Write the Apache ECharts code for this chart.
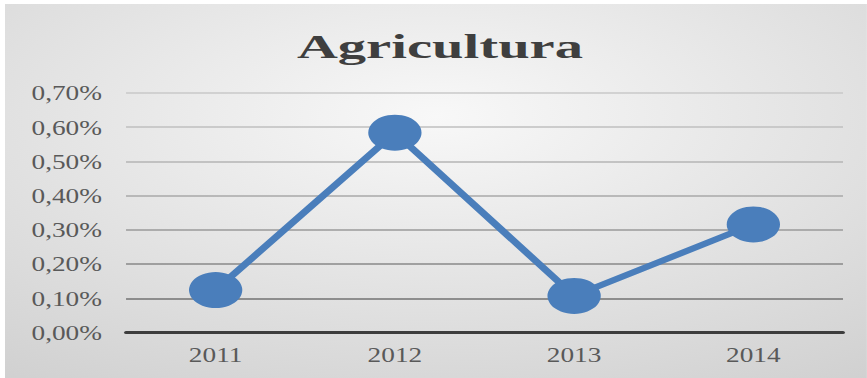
<!DOCTYPE html>
<html>
<head>
<meta charset="utf-8">
<script src="https://cdn.jsdelivr.net/npm/echarts@6/dist/echarts.min.js"></script>
<style>
  html, body { margin: 0; padding: 0; background: #ffffff; overflow: hidden; }
  #wrap { position: absolute; left: 0; top: 0; width: 867px; height: 378px; overflow: hidden; }
  /* the chart is laid out narrower and widened horizontally */
  #chart { position: absolute; left: 5px; top: 4px; width: 663px; height: 374px;
           transform: scaleX(1.3); transform-origin: 0 0; }
</style>
</head>
<body>
<div id="wrap"><div id="chart"></div></div>
<script>
const chartTitle = 'Agricultura';
const years = ['2011', '2012', '2013', '2014'];
const agricultura = [0.124, 0.584, 0.107, 0.316];
const yTickLabels = ['0,00%', '0,10%', '0,20%', '0,30%', '0,40%', '0,50%', '0,60%', '0,70%'];

const serif = '"Liberation Serif", "Times New Roman", serif';
const chart = echarts.init(document.getElementById('chart'), null, { renderer: 'svg' });

chart.setOption({
  animation: false,
  backgroundColor: {
    type: 'radial', x: 0.5, y: 0.3, r: 1.15,
    colorStops: [
      { offset: 0, color: '#f8f8f8' },
      { offset: 1, color: '#c3c3c3' }
    ]
  },
  graphic: [{
    type: 'text',
    x: 334.6,
    y: 43.3,
    scaleX: 1.32,
    style: {
      text: chartTitle,
      font: 'bold 33px ' + serif,
      fill: '#3f3f3f',
      textAlign: 'center',
      textVerticalAlign: 'middle'
    }
  }],
  grid: { left: 93.1, right: 18.4, top: 89, bottom: 45.5 },
  xAxis: {
    type: 'category',
    data: years,
    boundaryGap: true,
    axisLine: { lineStyle: { color: '#3d3d3d', width: 3 } },
    axisTick: { show: false },
    axisLabel: { color: '#595959', fontFamily: serif, fontSize: 21, margin: 12 }
  },
  yAxis: {
    type: 'value',
    min: 0,
    max: 0.7,
    interval: 0.1,
    axisLine: { show: false },
    axisTick: { show: false },
    axisLabel: {
      color: '#595959', fontFamily: serif, fontSize: 21, margin: 18.5,
      formatter: (v, i) => yTickLabels[i]
    },
    splitLine: {
      lineStyle: {
        width: 1.5,
        color: ['#555555', '#727272', '#888888', '#9a9a9a', '#a8a8a8', '#b4b4b4', '#bfbfbf', '#c9c9c9']
      }
    }
  },
  series: [{
    type: 'line',
    data: agricultura,
    symbol: 'circle',
    symbolSize: [41, 36],
    itemStyle: { color: '#4a7ebb' },
    lineStyle: { color: '#4a7ebb', width: 6 },
    z: 3
  }]
});
</script>
</body>
</html>
